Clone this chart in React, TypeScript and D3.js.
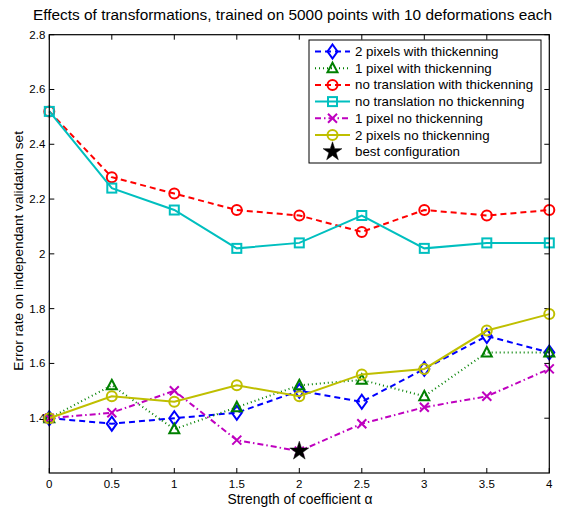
import React from "react";
import * as d3 from "d3";

const xValues = [0, 0.5, 1, 1.5, 2, 2.5, 3, 3.5, 4];
const twoPxThick = [1.40, 1.38, 1.40, 1.42, 1.50, 1.46, 1.58, 1.70, 1.64];
const onePxThick = [1.40, 1.52, 1.36, 1.44, 1.52, 1.54, 1.48, 1.64, 1.64];
const noTransThick = [2.52, 2.28, 2.22, 2.16, 2.14, 2.08, 2.16, 2.14, 2.16];
const noTransNoThick = [2.52, 2.24, 2.16, 2.02, 2.04, 2.14, 2.02, 2.04, 2.04];
const onePxNoThick = [1.40, 1.42, 1.50, 1.32, 1.28, 1.38, 1.44, 1.48, 1.58];
const twoPxNoThick = [1.40, 1.48, 1.46, 1.52, 1.48, 1.56, 1.58, 1.72, 1.78];
const bestX = [2];
const bestY = [1.28];

const xTicks = [0, 0.5, 1, 1.5, 2, 2.5, 3, 3.5, 4];
const yTicks = [1.4, 1.6, 1.8, 2, 2.2, 2.4, 2.6, 2.8];

type Marker = "diamond" | "triangle" | "circle" | "square" | "x" | "star";
interface Series { name: string; values: number[]; color: string; dash: string; marker: Marker; }

const series: Series[] = [
  { name: "2 pixels with thickenning", values: twoPxThick, color: "#0000ff", dash: "6,4", marker: "diamond" },
  { name: "1 pixel with thickenning", values: onePxThick, color: "#008000", dash: "1,3", marker: "triangle" },
  { name: "no translation with thickenning", values: noTransThick, color: "#ff0000", dash: "6,4", marker: "circle" },
  { name: "no translation no thickenning", values: noTransNoThick, color: "#00bfbf", dash: "", marker: "square" },
  { name: "1 pixel no thickenning", values: onePxNoThick, color: "#bf00bf", dash: "6,3,1.5,3", marker: "x" },
  { name: "2 pixels no thickenning", values: twoPxNoThick, color: "#bfbf00", dash: "", marker: "circle" },
];

const FONT = "'Liberation Sans', Arial, Helvetica, sans-serif";

function MarkerShape({ type, x, y, color }: { type: Marker; x: number; y: number; color: string }) {
  const sw = 2;
  switch (type) {
    case "diamond":
      return <path d={`M${x},${y - 7}L${x + 5},${y}L${x},${y + 7}L${x - 5},${y}Z`} fill="none" stroke={color} strokeWidth={sw} />;
    case "triangle":
      return <path d={`M${x},${y - 5.5}L${x + 5},${y + 4}L${x - 5},${y + 4}Z`} fill="none" stroke={color} strokeWidth={sw} />;
    case "circle":
      return <circle cx={x} cy={y} r={5} fill="none" stroke={color} strokeWidth={sw} />;
    case "square":
      return <rect x={x - 4.5} y={y - 4.5} width={9} height={9} fill="none" stroke={color} strokeWidth={sw} />;
    case "x":
      return <path d={`M${x - 4.5},${y - 4.5}L${x + 4.5},${y + 4.5}M${x - 4.5},${y + 4.5}L${x + 4.5},${y - 4.5}`} stroke={color} strokeWidth={sw} />;
    case "star": {
      const sym = d3.symbol().type(d3.symbolStar).size(110)();
      return <path d={sym || ""} transform={`translate(${x},${y})`} fill={color} stroke={color} strokeWidth={0.5} />;
    }
  }
  return null;
}

export default function App() {
  const W = 564, H = 507;
  const x = d3.scaleLinear().domain([0, 4]).range([49.3, 549.3]);
  const y = d3.scaleLinear().domain([1.2, 2.8]).range([473, 34.7]);
  const line = d3.line<number>().x((_, i) => x(xValues[i])).y((d) => y(d));
  const L = x.range()[0], R = x.range()[1], T = y.range()[1], B = y.range()[0];

  const legX = 309, legY = 40, legW = 232, legH = 123;
  const rowH = 16.7;

  return (
    <svg width={W} height={H} style={{ position: "absolute", left: 0, top: 0 }} fontFamily={FONT}>
      <rect width={W} height={H} fill="#fff" />
      <text x={292.5} y={20} textAnchor="middle" fontSize={15.4} fill="#000">
        Effects of transformations, trained on 5000 points with 10 deformations each
      </text>
      {/* ticks */}
      {xTicks.map((t) => (
        <g key={"x" + t}>
          <line x1={x(t)} x2={x(t)} y1={B} y2={B - 5} stroke="#000" />
          <line x1={x(t)} x2={x(t)} y1={T} y2={T + 5} stroke="#000" />
          <text x={x(t)} y={487.5} textAnchor="middle" fontSize={11.5} fill="#000">{t}</text>
        </g>
      ))}
      {yTicks.map((t) => (
        <g key={"y" + t}>
          <line x1={L} x2={L + 5} y1={y(t)} y2={y(t)} stroke="#000" />
          <line x1={R} x2={R - 5} y1={y(t)} y2={y(t)} stroke="#000" />
          <text x={L - 4} y={y(t) + 4} textAnchor="end" fontSize={11.5} fill="#000">{d3.format("")(t)}</text>
        </g>
      ))}
      <text x={300} y={504} textAnchor="middle" fontSize={13.8} fill="#000">Strength of coefficient α</text>
      <text transform={`translate(23,${(T + B) / 2 - 3}) rotate(-90)`} textAnchor="middle" fontSize={13.7} fill="#000">
        Error rate on independant validation set
      </text>
      {/* series */}
      {series.map((s) => (
        <g key={s.name}>
          <path d={line(s.values) || ""} fill="none" stroke={s.color} strokeWidth={2} strokeDasharray={s.dash || undefined} />
          {s.values.map((v, i) => (
            <MarkerShape key={i} type={s.marker} x={x(xValues[i])} y={y(v)} color={s.color} />
          ))}
        </g>
      ))}
      {bestX.map((bx, i) => (
        <MarkerShape key={"b" + i} type="star" x={x(bx)} y={y(bestY[i])} color="#000" />
      ))}
      {/* box */}
      <rect x={L} y={T} width={R - L} height={B - T} fill="none" stroke="#000" strokeWidth={1.2} />
      {/* legend */}
      <rect x={legX} y={legY} width={legW} height={legH} fill="#fff" stroke="#000" strokeWidth={1} />
      {[...series, { name: "best configuration", values: [], color: "#000", dash: "", marker: "star" as Marker }].map((s, i) => {
        const cy = legY + 11.5 + i * rowH;
        return (
          <g key={"l" + i}>
            {s.values.length > 0 && (
              <line x1={315} x2={350} y1={cy} y2={cy} stroke={s.color} strokeWidth={2} strokeDasharray={s.dash || undefined} />
            )}
            <MarkerShape type={s.marker} x={332.5} y={cy} color={s.color} />
            <text x={355} y={cy + 4.5} fontSize={13.3} fill="#000">{s.name}</text>
          </g>
        );
      })}
    </svg>
  );
}
